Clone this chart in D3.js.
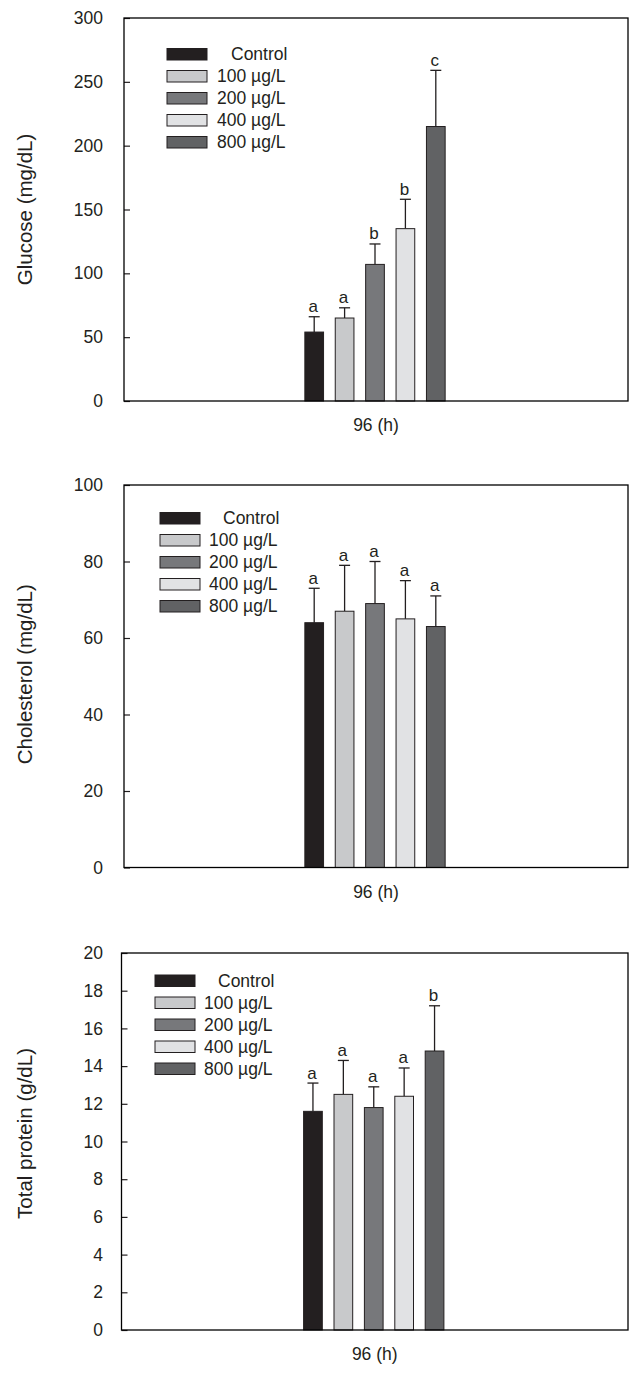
<!DOCTYPE html>
<html><head><meta charset="utf-8">
<script src="https://cdn.jsdelivr.net/npm/d3@7"></script>
<style>body{margin:0;background:#fff}svg{display:block}text{font-family:"Liberation Sans",Arial,sans-serif;fill:#231f20}</style>
</head><body><svg id="c" width="638" height="1374"></svg>
<script>
const groups = ["Control", "100 µg/L", "200 µg/L", "400 µg/L", "800 µg/L"];
const groupColors = ["#231f20", "#c8c9cb", "#77787b", "#e1e2e4", "#616264"];
const xCategory = "96 (h)";

const glucoseMean = [54, 65, 107, 135, 215];
const glucoseErr = [12, 8, 16, 23, 44];
const glucoseLetters = ["a", "a", "b", "b", "c"];
const glucoseTicks = [0, 50, 100, 150, 200, 250, 300];

const cholMean = [64, 67, 69, 65, 63];
const cholErr = [9, 12, 11, 10, 8];
const cholLetters = ["a", "a", "a", "a", "a"];
const cholTicks = [0, 20, 40, 60, 80, 100];

const protMean = [11.6, 12.5, 11.8, 12.4, 14.8];
const protErr = [1.5, 1.8, 1.1, 1.5, 2.4];
const protLetters = ["a", "a", "a", "a", "b"];
const protTicks = [0, 2, 4, 6, 8, 10, 12, 14, 16, 18, 20];

const panels = [
  {title: "Glucose (mg/dL)", mean: glucoseMean, err: glucoseErr, letters: glucoseLetters, ticks: glucoseTicks,
   L: 124, R: 628, T: 18, B: 401, tOff: 0, leg: {x: 167, y: 48.5, cx: 231, ox: 217}},
  {title: "Cholesterol (mg/dL)", mean: cholMean, err: cholErr, letters: cholLetters, ticks: cholTicks,
   L: 124, R: 628, T: 485, B: 867.5, tOff: -2, leg: {x: 160, y: 512.5, cx: 223, ox: 209}},
  {title: "Total protein (g/dL)", mean: protMean, err: protErr, letters: protLetters, ticks: protTicks,
   L: 121.5, R: 628, T: 953, B: 1330, tOff: -8, leg: {x: 155, y: 975, cx: 218, ox: 204}}
];

const svg = d3.select("#c");
const ink = "#231f20";

panels.forEach(p => {
  const g = svg.append("g");
  const y = d3.scaleLinear().domain([p.ticks[0], p.ticks[p.ticks.length - 1]]).range([p.B, p.T]);
  const xc = (p.L + p.R) / 2;
  const step = 30.4;
  const x = d3.scaleBand().domain(groups)
    .range([xc - 2.5 * step - 1, xc + 2.5 * step - 1])
    .paddingInner(0.385).paddingOuter(0.1925);

  // y axis
  const ax = g.append("g").attr("transform", `translate(${p.L},0)`)
    .call(d3.axisLeft(y).tickValues(p.ticks).tickSizeInner(-6).tickSizeOuter(0).tickPadding(p.L - 103));
  ax.select(".domain").remove();
  ax.selectAll(".tick line").attr("stroke", ink).attr("stroke-width", 1.2);
  ax.selectAll(".tick text").style("font-size", "17.5px").attr("fill", ink);

  // bars
  groups.forEach((grp, i) => {
    const bx = x(grp), bw = x.bandwidth();
    const top = y(p.mean[i]);
    const et = y(p.mean[i] + p.err[i]);
    const cx = bx + bw / 2;
    g.append("line").attr("x1", cx).attr("x2", cx).attr("y1", top).attr("y2", et)
      .attr("stroke", ink).attr("stroke-width", 1.3);
    g.append("line").attr("x1", cx - 5.5).attr("x2", cx + 5.5).attr("y1", et).attr("y2", et)
      .attr("stroke", ink).attr("stroke-width", 1.3);
    g.append("rect").attr("x", bx).attr("y", top).attr("width", bw).attr("height", p.B - top)
      .attr("fill", groupColors[i]).attr("stroke", ink).attr("stroke-width", 1);
    g.append("text").attr("x", cx - 1).attr("y", et - 4.5).attr("text-anchor", "middle")
      .style("font-size", "17px").text(p.letters[i]);
  });

  // frame
  g.append("rect").attr("x", p.L).attr("y", p.T).attr("width", p.R - p.L).attr("height", p.B - p.T)
    .attr("fill", "none").attr("stroke", "#000").attr("stroke-width", 1.3);

  // legend
  groups.forEach((grp, i) => {
    const yy = p.leg.y + i * 22;
    g.append("rect").attr("x", p.leg.x).attr("y", yy).attr("width", 40).attr("height", 11.5)
      .attr("fill", groupColors[i]).attr("stroke", ink).attr("stroke-width", 1);
    g.append("text").attr("x", i === 0 ? p.leg.cx : p.leg.ox).attr("y", yy + 5.75).attr("dy", "0.35em")
      .style("font-size", "17.5px").text(grp);
  });

  // x label
  g.append("text").attr("x", xc).attr("y", p.B + 24).attr("dy", "0.35em").attr("text-anchor", "middle")
    .style("font-size", "17.5px").text(xCategory);

  // y title
  g.append("text").attr("transform", `translate(25,${(p.T + p.B) / 2 + p.tOff}) rotate(-90)`)
    .attr("text-anchor", "middle").attr("dy", "0.35em").style("font-size", "20.5px").text(p.title);
});
</script></body></html>
